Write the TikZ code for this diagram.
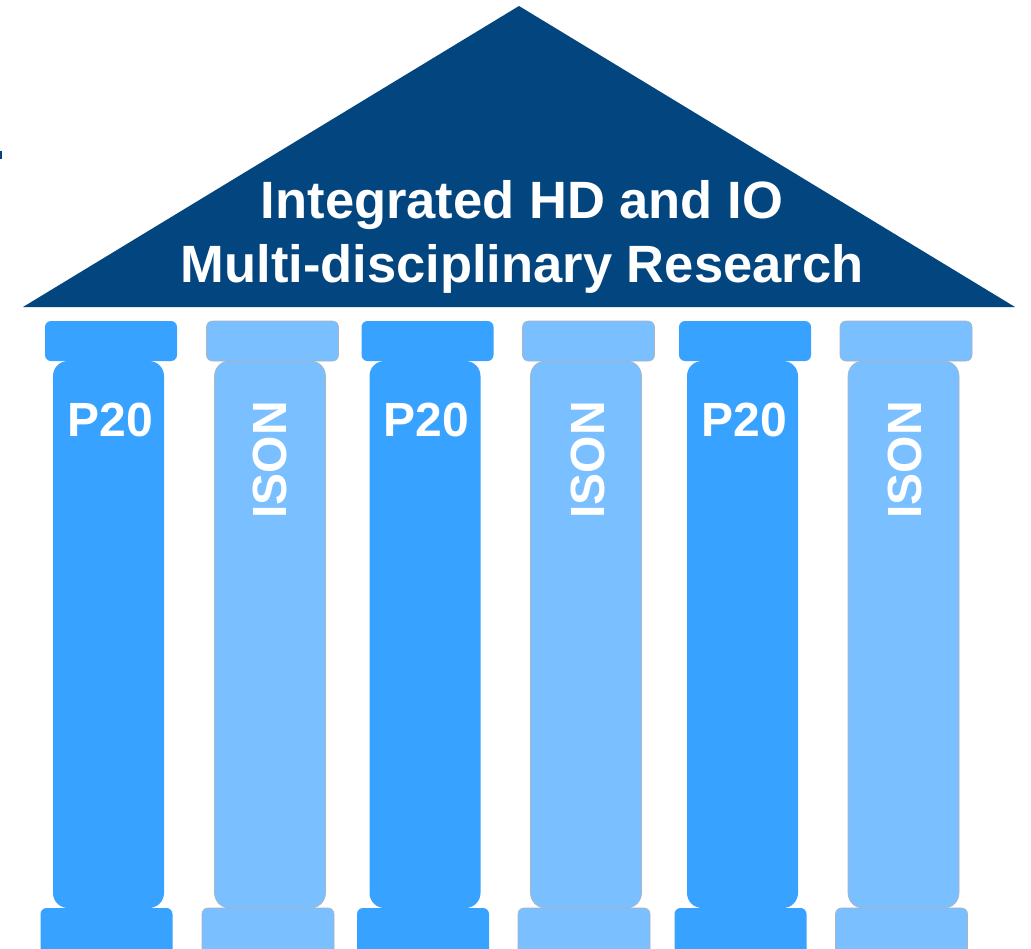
\documentclass[tikz,border=0pt]{standalone}
\usepackage{fontspec}
\setmainfont{Liberation Sans}
\definecolor{navy}{HTML}{03467F}
\definecolor{pdark}{HTML}{37A2FF}
\definecolor{plight}{HTML}{7ABFFF}
\definecolor{pedge}{HTML}{A8B4C0}
\tikzset{
  x=1pt, y=-1pt,
  capbox/.style={inner sep=0pt, outer sep=0pt, minimum width=132pt, minimum height=40pt, rounded corners=6pt},
  shaftbox/.style={inner sep=0pt, outer sep=0pt, minimum width=111pt, minimum height=547pt, rounded corners=15pt},
  basebox/.style={inner sep=0pt, outer sep=0pt, minimum width=132pt, minimum height=60pt, rounded corners=6pt},
  darkp/.style={fill=pdark},
  lightp/.style={fill=plight, draw=pedge, line width=0.6pt},
  ptext/.style={text=white, font=\fontsize{48}{50}\selectfont\bfseries},
  ttext/.style={text=white, font=\fontsize{52.5}{64}\selectfont\bfseries},
}
\begin{document}
\begin{tikzpicture}
\clip (0,0) rectangle (1031,948);
\fill[white] (0,0) rectangle (1031,948);
% roof
\fill[navy] (23,307) -- (519,6) -- (1015,307) -- cycle;
\fill[navy] (0,151) rectangle (2,159);
\node[ttext, anchor=base] (t1) at (522,218) {Integrated HD and IO};
\node[ttext, anchor=base] (t2) at (522,282) {Multi-disciplinary Research};
% pillars: shaft center x, style
\foreach \i/\cx/\st in {1/108.5/darkp, 2/270/lightp, 3/425/darkp, 4/586/lightp, 5/742.5/darkp, 6/903.5/lightp}{
  \node[shaftbox, \st] (shaft\i) at (\cx, 634.5) {};
  \node[basebox, \st] (base\i) at (\cx-2, 938) {};
  \node[capbox, \st] (cap\i) at (\cx+2.5, 341) {};
}
\foreach \i/\cx in {1/110, 3/426, 5/744}{
  \node[ptext, anchor=base] (lab\i) at (\cx,436) {P20};
}
\foreach \i/\cx in {2/270, 4/588, 6/905}{
  \node[ptext, rotate=90] (lab\i) at (\cx,460) {ISON};
}
\end{tikzpicture}
\end{document}
